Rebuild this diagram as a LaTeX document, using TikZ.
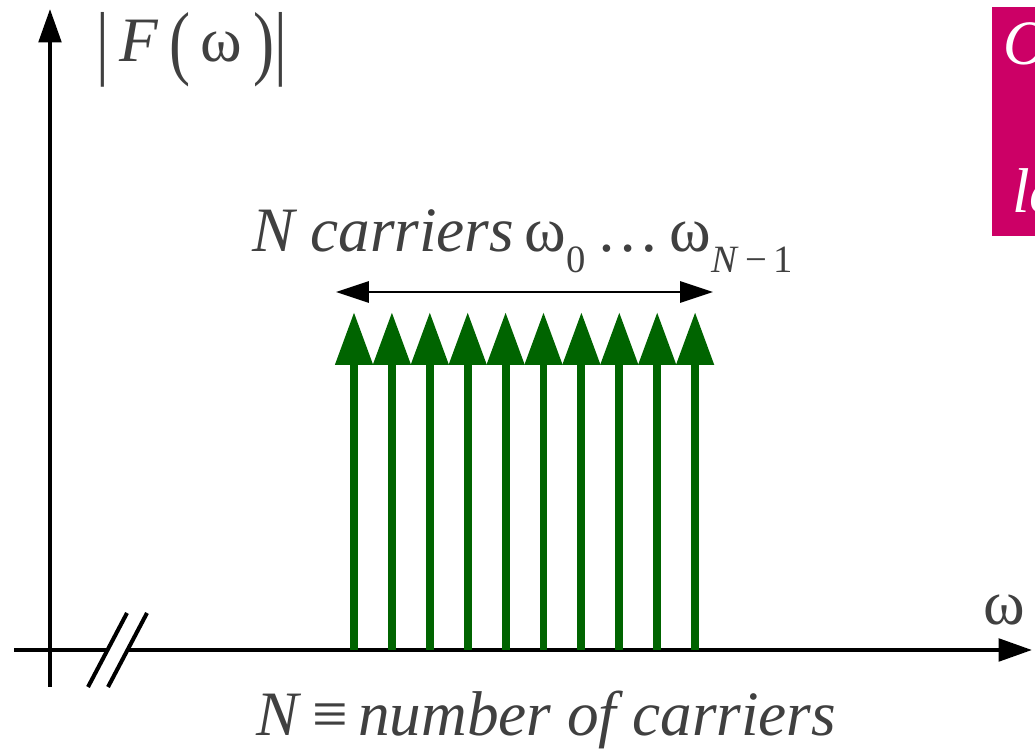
\documentclass[tikz,border=0pt]{standalone}
\usepackage{fontspec}
\setmainfont{Liberation Serif}
\usetikzlibrary{arrows.meta, positioning}
\definecolor{specGreen}{HTML}{006400}
\definecolor{labelGray}{HTML}{404040}
\definecolor{slideMagenta}{HTML}{CC0066}
\newcommand{\lowidx}[1]{\raisebox{-0.32em}{\fontsize{22}{26}\selectfont #1}}
\newcommand{\tallbar}[1]{\raisebox{-0.12em}{\scalebox{1}[1.3]{#1}}}
\tikzset{
  axisLine/.style={line width=2.3pt, black},
  axisArrow/.style={-{Triangle[length=6.7mm, width=4.5mm]}, line width=2.3pt, black},
  carrierArrow/.style={-{Triangle[length=10.6mm, width=7.2mm]}, line width=4.5pt, specGreen},
  spanArrow/.style={{Triangle[length=6.6mm, width=4.2mm]}-{Triangle[length=6.6mm, width=4.2mm]},
                    line width=1.7pt, black},
  lbl/.style={text=labelGray, font=\fontsize{36}{43}\selectfont, inner sep=0pt, anchor=base west},
  boxLbl/.style={text=white, font=\fontsize{36}{43}\selectfont\itshape, inner sep=0pt, anchor=base west},
}
\begin{document}
\begin{tikzpicture}[x=0.02cm, y=-0.02cm]
    \clip (0,0) rectangle (1035,749);
    %% Cut-off slide box (top right)
    \fill[slideMagenta] (992,7) rectangle (1100,236);
    \node[boxLbl] (boxTop) at (1003,65) {O};
    \node[boxLbl] (boxBot) at (1012,213) {le};

    %% Axes
    \coordinate (yBot) at (50,687);
    \coordinate (yTop) at (50,9);
    \coordinate (xLeft) at (14,650);
    \coordinate (brkL) at (107.5,650);
    \coordinate (brkR) at (127.5,650);
    \coordinate (xEnd) at (1032,650);
    \draw[axisArrow] (yBot) -- (yTop);
    \draw[axisLine] (xLeft) -- (brkL);
    \draw[axisArrow] (brkR) -- (xEnd);
    \foreach \dx in {0,20}
      \draw[axisLine] (88+\dx,687) -- (127+\dx,613);
    \node[lbl] (fLabel) at (96,62)
         {\tallbar{|}\,\textit{F}\,\tallbar{(}\,ω\,\tallbar{)}\tallbar{|}};
    \node[lbl] (wLabel) at (983,625) {ω};

    %% Carriers
    \foreach \i in {0,...,9} {
      \coordinate (cb\i) at ({354+37.9*\i},650);
      \coordinate (ct\i) at ({354+37.9*\i},312);
      \draw[carrierArrow] (cb\i) -- (ct\i);
    }

    %% Band span and labels
    \coordinate (spanL) at (336,292);
    \coordinate (spanR) at (713,292);
    \draw[spanArrow] (spanL) -- (spanR);
    \node[lbl] (spanLabel) at (252,252)
         {\textit{N carriers}\,ω\lowidx{0}\,…\,ω\lowidx{\textit{N}\,−\,1}};
    \node[lbl] (defLabel) at (256,735) {\textit{N}\,≡\,\textit{number of carriers}};
  \end{tikzpicture}
\end{document}
